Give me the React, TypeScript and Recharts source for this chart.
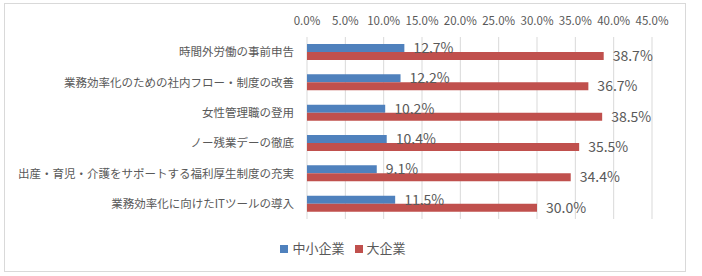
import { BarChart, Bar, XAxis, YAxis, CartesianGrid, Legend, LabelList } from "recharts";

const categories = [
  "時間外労働の事前申告",
  "業務効率化のための社内フロー・制度の改善",
  "女性管理職の登用",
  "ノー残業デーの徹底",
  "出産・育児・介護をサポートする福利厚生制度の充実",
  "業務効率化に向けたITツールの導入",
];
const smallBiz = [12.7, 12.2, 10.2, 10.4, 9.1, 11.5];
const largeBiz = [38.7, 36.7, 38.5, 35.5, 34.4, 30.0];
const xTicks = [0, 5, 10, 15, 20, 25, 30, 35, 40, 45];

const BLUE = "#4f81bd";
const RED = "#c0504d";
const TEXT = "#595959";
const FONT = "'Noto Sans CJK JP', 'Noto Sans', sans-serif";

const data = categories.map((name, i) => ({
  name,
  small: smallBiz[i],
  large: largeBiz[i],
}));

const pct = (v: number) => `${Number(v).toFixed(1)}%`;

export default function App() {
  return (
    <div style={{ position: "absolute", left: 0, top: 0, width: 702, height: 276, background: "#fff", fontFamily: FONT }}>
      <div
        style={{
          position: "absolute",
          left: 4,
          top: 3,
          width: 682,
          height: 269,
          border: "1px solid #d9d9d9",
          boxSizing: "border-box",
        }}
      />
      <BarChart
        width={702}
        height={276}
        data={data}
        layout="vertical"
        margin={{ top: 0, right: 50, bottom: 57, left: 0 }}
        barGap={0}
        style={{ position: "absolute", left: 0, top: 0 }}
      >
        <CartesianGrid horizontal={false} stroke="#d9d9d9" />
        <XAxis
          type="number"
          orientation="top"
          domain={[0, 45]}
          ticks={xTicks}
          interval={0}
          tickFormatter={pct}
          axisLine={false}
          tickLine={false}
          tickSize={0}
          tickMargin={12}
          height={37}
          tick={{ fontSize: 11.5, fill: TEXT, fontFamily: FONT }}
        />
        <YAxis
          type="category"
          dataKey="name"
          width={307}
          axisLine={false}
          tickLine={false}
          tickSize={0}
          tickMargin={13}
          interval={0}
          tick={{ fontSize: 11.5, fill: TEXT, fontFamily: FONT }}
        />
        <Legend
          layout="horizontal"
          verticalAlign="middle"
          align="center"
          iconType="square"
          iconSize={8}
          wrapperStyle={{ top: 238, left: 218, width: 260, fontSize: 13, fontFamily: FONT }}
          formatter={(value) => <span style={{ color: TEXT, fontSize: 13 }}>{value}</span>}
        />
        <Bar dataKey="small" name="中小企業" fill={BLUE} barSize={8} isAnimationActive={false}>
          <LabelList dataKey="small" position="right" offset={9} formatter={pct} style={{ fontSize: 14, fill: TEXT, fontFamily: FONT }} />
        </Bar>
        <Bar dataKey="large" name="大企業" fill={RED} barSize={8} isAnimationActive={false}>
          <LabelList dataKey="large" position="right" offset={9} formatter={pct} style={{ fontSize: 14, fill: TEXT, fontFamily: FONT }} />
        </Bar>
      </BarChart>
    </div>
  );
}
